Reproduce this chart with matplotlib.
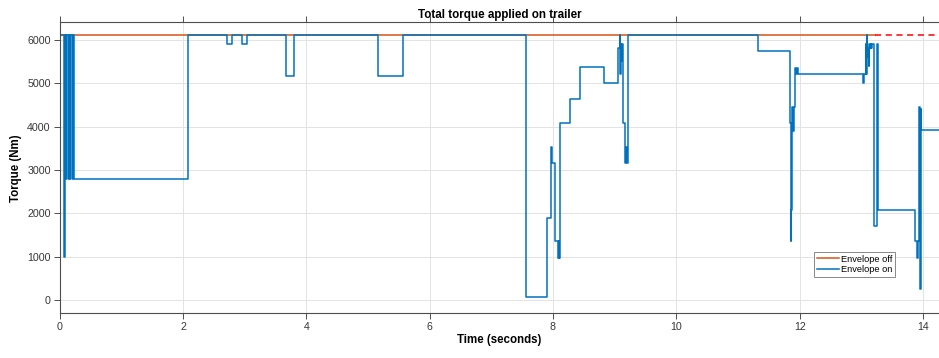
import matplotlib
matplotlib.use('Agg')
from matplotlib import pyplot as plt

# envelope off (solid part, then the dashed continuation)
t_off = [0.0, 13.22]
torque_off = [6100, 6100]
t_off_dash = [13.22, 14.3]
torque_off_dash = [6100, 6100]

# envelope on, step values
t_on = [0.0, 0.003, 0.07, 0.075, 0.08, 0.085, 0.09, 0.10, 0.105, 0.13, 0.145,
        0.16, 0.175, 0.20, 0.21, 0.235, 2.08, 2.71, 2.79, 2.95, 3.04, 3.67, 3.80,
        5.17, 5.56, 7.57, 7.91, 7.97, 7.98, 8.04, 8.08, 8.09, 8.10, 8.11, 8.27,
        8.43, 8.82, 9.06, 9.08, 9.09, 9.10, 9.11, 9.12, 9.13, 9.16, 9.18, 9.185,
        9.19, 9.20, 9.21, 11.33, 11.84, 11.86, 11.865, 11.87, 11.88, 11.89, 11.91,
        11.93, 11.94, 11.95, 11.97, 13.02, 13.04, 13.07, 13.08, 13.09, 13.10,
        13.11, 13.12, 13.13, 13.14, 13.15, 13.16, 13.17, 13.21, 13.25, 13.27,
        13.87, 13.91, 13.92, 13.94, 13.95, 13.96, 13.97, 14.3]
torque_on = [0, 6100, 2800, 1000, 2800, 1000, 6100, 2800, 6100, 2800, 6100,
             2800, 6100, 2800, 6100, 2800, 6100, 5900, 6100, 5900, 6100, 5170, 6100,
             5170, 6100, 70, 1890, 3530, 3160, 1360, 980, 1360, 980, 4070, 4630,
             5360, 5000, 5800, 6100, 5200, 5900, 5500, 5900, 4070, 3160, 3530, 3160,
             3530, 3160, 6100, 5730, 4080, 1360, 2080, 3900, 4450, 3900, 4450,
             5350, 5200, 5350, 5200, 5000, 5200, 5900, 5200, 6100, 5600,
             5800, 5400, 5900, 5800, 5900, 5800, 5900, 1710, 5900, 2075,
             1360, 980, 1360, 4450, 260, 4400, 3910, 3910]

x_ticks = [0, 2, 4, 6, 8, 10, 12, 14]
y_ticks = [0, 1000, 2000, 3000, 4000, 5000, 6000]

plt.rcParams['font.family'] = ['Liberation Sans', 'DejaVu Sans']

fig = plt.figure(figsize=(9.39, 3.58), dpi=100)
ax = fig.add_axes([59.7 / 939, 44.7 / 358, 879.3 / 939, 291 / 358])

ax.plot(t_off, torque_off, color='#D95319', lw=1.1, label='Envelope off')
ax.plot(t_on, torque_on, color='#0072BD', lw=1.1, drawstyle='steps-post',
        label='Envelope on')
ax.plot(t_off_dash, torque_off_dash, color='#FF0000', lw=1.1, ls=(0, (4, 3)),
        label='_nolegend_')

ax.set_xlim(0, 14.26)
ax.set_ylim(-300, 6400)
ax.set_xticks(x_ticks)
ax.set_yticks(y_ticks)
ax.grid(True, color='#e3e3e3', lw=0.7)
ax.set_axisbelow(True)

for side in ['top', 'bottom', 'left']:
    ax.spines[side].set_color('#4d4d4d')
    ax.spines[side].set_linewidth(0.8)
ax.spines['right'].set_visible(False)
ax.tick_params(direction='out', length=4, width=0.7, color='#4d4d4d',
               labelsize=7.7, labelcolor='#383838', top=True, labeltop=False,
               pad=2.5)

ax.set_title('Total torque applied on trailer', fontsize=8.4, fontweight='bold',
             pad=3)
ax.set_xlabel('Time (seconds)', fontsize=8.3, fontweight='bold', labelpad=1)
ax.set_ylabel('Torque (Nm)', fontsize=8.3, fontweight='bold', labelpad=4)

leg = ax.legend(loc='lower left', bbox_to_anchor=(0.858, 0.124), fontsize=6.7,
                fancybox=False, framealpha=1, borderpad=0.3, handlelength=2.4,
                handletextpad=0.2, labelspacing=0.2, borderaxespad=0)
leg.get_frame().set_edgecolor('#888888')
leg.get_frame().set_linewidth(0.7)

fig.savefig('out.png', dpi=100)
